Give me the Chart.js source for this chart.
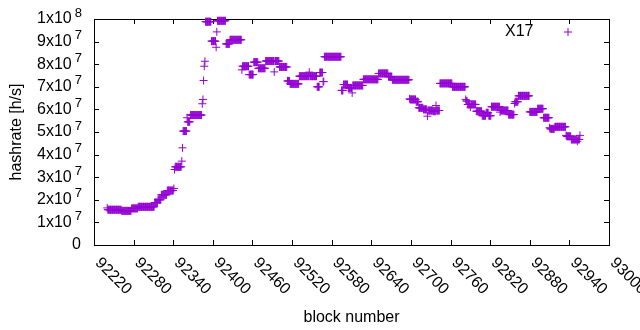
<!DOCTYPE html>
<html>
<head>
<meta charset="utf-8">
<script src="https://cdn.jsdelivr.net/npm/chart.js@4/dist/chart.umd.min.js"></script>
<style>
  html, body { margin: 0; padding: 0; background: #fff; }
  canvas { display: block; }
</style>
</head>
<body>
<canvas id="chart" width="640" height="330"></canvas>
<script>
// x range and ticks (block numbers)
const xMin = 92220, xMax = 93000, xStep = 60;
// y range and ticks (h/s)
const yMin = 0, yMax = 1e8, yStep = 1e7;

const seriesLabel = 'X17';
const xTitle = 'block number';
const yTitle = 'hashrate [h/s]';

// one value per block, starting at firstBlock, in 10^6 h/s
const firstBlock = 92240;
const hashrateMh = [
  /* 92240 */ 16.4,15.6,15.6,15.6,15.6,15.6,15.6,15.6,15.6,15.6,
  /* 92250 */ 15.6,15.6,15.6,15.6,15.6,15.6,15.6,15.6,15.6,15.6,
  /* 92260 */ 15.6,15.6,15.1,15.1,15.1,15.1,15.1,15.1,15.1,15.1,
  /* 92270 */ 15.1,15.1,15.1,15.1,15.1,15.1,15.1,16.2,16.2,16.2,
  /* 92280 */ 16.2,16.2,16.2,16.2,16.2,16.2,16.2,16.9,16.9,16.9,
  /* 92290 */ 16.9,16.9,16.9,16.9,16.9,16.9,16.9,16.9,16.9,16.9,
  /* 92300 */ 16.9,16.9,16.9,16.9,16.9,16.9,16.9,16.9,16.9,16.9,
  /* 92310 */ 16.9,16.9,18.8,18.8,18.8,18.8,18.8,20.0,20.0,20.0,
  /* 92320 */ 20.0,20.0,22.2,22.2,22.2,22.2,22.2,22.2,22.2,22.2,
  /* 92330 */ 22.2,24.1,24.1,24.1,24.1,24.1,24.1,24.1,24.1,24.1,
  /* 92340 */ 24.1,25.0,33.4,34.6,34.6,34.6,34.6,34.6,34.6,34.6,
  /* 92350 */ 34.6,34.6,34.6,37.1,43.0,50.4,50.4,50.4,50.4,50.4,
  /* 92360 */ 50.4,56.3,54.5,54.5,54.5,54.5,57.5,57.5,57.5,57.5,
  /* 92370 */ 57.5,57.5,57.5,57.5,57.5,57.5,57.5,57.5,57.5,57.5,
  /* 92380 */ 57.5,57.5,57.5,57.5,62.5,64.4,72.8,79.1,81.3,98.8,
  /* 92390 */ 98.8,98.8,98.8,98.8,98.8,98.8,98.8,98.8,90.2,90.2,
  /* 92400 */ 90.2,90.2,90.2,90.2,90.2,87.5,94.3,99.2,99.2,99.2,
  /* 92410 */ 99.2,99.2,99.2,99.2,99.2,99.2,99.2,99.2,99.2,99.2,
  /* 92420 */ 89.0,89.0,89.0,89.0,89.0,89.0,90.8,90.8,90.8,90.8,
  /* 92430 */ 90.8,90.8,90.8,90.8,90.8,90.8,90.8,90.8,90.8,90.8,
  /* 92440 */ 90.8,90.8,90.8,90.8,77.5,79.1,79.1,79.1,79.1,79.1,
  /* 92450 */ 79.1,79.1,79.1,79.1,79.1,75.4,75.4,75.4,75.4,75.4,
  /* 92460 */ 75.4,75.4,80.9,80.9,80.9,80.9,80.9,80.9,80.9,78.2,
  /* 92470 */ 78.2,78.2,78.2,78.2,78.2,78.2,78.2,78.2,78.2,78.2,
  /* 92480 */ 81.4,81.4,81.4,81.4,81.4,81.4,81.4,81.4,81.4,81.4,
  /* 92490 */ 81.4,81.4,81.4,76.6,81.4,81.4,81.4,81.4,81.4,81.4,
  /* 92500 */ 81.4,78.8,78.8,78.8,78.8,78.8,78.8,78.8,78.8,78.8,
  /* 92510 */ 78.8,78.8,78.8,72.6,72.6,72.6,72.6,71.3,71.3,71.3,
  /* 92520 */ 71.3,71.3,71.3,71.3,71.3,71.3,71.3,71.3,71.3,71.3,
  /* 92530 */ 71.3,74.7,74.7,74.7,74.7,74.7,74.7,74.7,74.7,74.7,
  /* 92540 */ 74.7,74.7,74.7,74.7,74.7,74.7,76.5,74.7,74.7,74.7,
  /* 92550 */ 74.7,74.7,74.7,74.7,74.7,74.7,74.7,74.7,70.0,70.0,
  /* 92560 */ 70.0,70.0,76.3,76.3,76.3,76.3,76.3,72.3,72.3,83.3,
  /* 92570 */ 83.3,83.3,83.3,83.3,83.3,83.3,83.3,83.3,83.3,83.3,
  /* 92580 */ 83.3,83.3,83.3,83.3,83.3,83.3,83.3,83.3,83.3,83.3,
  /* 92590 */ 83.3,83.3,83.3,83.3,83.3,68.4,68.4,68.4,71.0,71.0,
  /* 92600 */ 71.0,71.0,71.0,71.0,71.0,69.5,69.5,69.5,69.5,69.5,
  /* 92610 */ 69.5,67.3,70.6,70.6,70.6,70.6,70.6,70.6,70.6,70.6,
  /* 92620 */ 70.6,70.6,70.6,70.6,70.6,70.6,70.6,70.6,73.3,73.3,
  /* 92630 */ 73.3,73.3,73.3,73.3,73.3,73.3,73.3,73.3,73.3,73.3,
  /* 92640 */ 73.3,73.3,73.3,73.3,73.3,73.3,73.3,73.3,73.3,73.3,
  /* 92650 */ 73.3,75.9,75.9,75.9,75.9,75.9,75.9,75.9,75.9,75.9,
  /* 92660 */ 75.9,75.9,75.9,75.9,75.9,75.9,74.5,74.5,74.5,74.5,
  /* 92670 */ 74.5,74.5,73.1,73.1,73.1,73.1,73.1,73.1,73.1,73.1,
  /* 92680 */ 73.1,73.1,73.1,73.1,73.1,73.1,73.1,73.1,73.1,73.1,
  /* 92690 */ 73.1,73.1,73.1,73.1,73.1,73.1,73.1,73.1,64.7,64.4,
  /* 92700 */ 64.4,64.4,64.4,64.4,64.4,64.4,64.4,64.4,63.4,63.4,
  /* 92710 */ 63.4,63.4,60.7,60.7,60.7,60.7,60.7,60.7,60.7,60.0,
  /* 92720 */ 60.0,60.0,60.0,60.0,60.0,57.0,59.5,59.5,59.5,59.5,
  /* 92730 */ 59.5,59.5,59.5,59.5,59.2,59.2,59.2,59.2,61.7,59.5,
  /* 92740 */ 59.5,59.5,59.5,59.5,71.5,71.5,71.5,71.5,71.5,71.5,
  /* 92750 */ 71.5,71.5,71.5,71.5,71.5,71.5,71.5,71.5,71.5,71.5,
  /* 92760 */ 71.5,71.5,71.5,70.0,70.0,70.0,70.0,70.0,70.0,70.0,
  /* 92770 */ 70.0,70.0,70.0,70.0,70.0,70.0,70.0,70.0,70.0,70.0,
  /* 92780 */ 70.0,70.0,70.0,64.4,63.7,63.7,62.2,62.2,62.2,62.2,
  /* 92790 */ 61.0,62.2,62.2,62.2,62.2,62.2,62.2,62.2,62.2,59.2,
  /* 92800 */ 59.2,59.2,59.2,59.2,59.2,59.2,59.2,59.2,57.2,57.2,
  /* 92810 */ 57.2,57.2,57.2,57.2,58.5,58.5,58.5,58.5,57.2,57.2,
  /* 92820 */ 57.2,57.2,61.2,61.2,61.2,61.2,61.2,61.2,61.2,61.2,
  /* 92830 */ 61.2,61.2,61.2,61.2,61.2,58.8,59.5,59.5,59.5,59.5,
  /* 92840 */ 59.5,59.5,59.5,59.5,59.5,59.5,59.5,59.5,57.7,57.7,
  /* 92850 */ 57.7,57.7,57.7,57.7,57.7,57.7,57.7,62.6,63.4,63.4,
  /* 92860 */ 63.4,63.4,63.4,66.0,66.0,66.0,66.0,66.0,66.0,66.0,
  /* 92870 */ 66.0,66.0,66.0,66.0,66.0,66.0,66.0,66.0,66.0,66.0,
  /* 92880 */ 58.9,58.9,58.9,58.9,58.9,58.9,58.9,58.9,58.9,58.9,
  /* 92890 */ 58.9,58.9,60.3,60.3,60.3,60.3,60.3,60.3,60.3,60.3,
  /* 92900 */ 60.3,56.3,56.3,56.3,56.3,56.3,56.3,56.3,56.3,56.3,
  /* 92910 */ 51.9,51.4,51.4,51.4,51.4,51.4,51.4,51.4,52.3,52.3,
  /* 92920 */ 52.3,52.3,52.3,52.3,52.3,52.3,52.3,52.3,52.3,52.3,
  /* 92930 */ 52.3,52.3,52.3,52.3,52.3,48.5,48.1,48.1,48.1,48.1,
  /* 92940 */ 48.1,48.1,48.1,46.7,46.7,46.7,46.7,46.7,46.7,46.7,
  /* 92950 */ 46.7,46.7,45.9,46.7,46.7,46.7,48.5
];

const violet = '#9400d3';
const fontFamily = '"Liberation Sans", Arial, sans-serif';
const fontSize = 16;
const markSize = 4;

const points = hashrateMh.map((v, i) => ({ x: firstBlock + i, y: v * 1e6 }));

function drawCross(ctx, x, y) {
  ctx.beginPath();
  ctx.moveTo(x - markSize, y); ctx.lineTo(x + markSize, y);
  ctx.moveTo(x, y - markSize); ctx.lineTo(x, y + markSize);
  ctx.stroke();
}

// gnuplot look: full border, inward tics on all sides, rotated x labels,
// y labels written as Nx10^E, key inside the top right corner
const gnuplotFrame = {
  id: 'gnuplotFrame',
  beforeDatasetsDraw(chart) {
    const { ctx, chartArea: a, scales: { x, y } } = chart;
    const tic = 5;
    ctx.save();
    ctx.strokeStyle = '#000';
    ctx.fillStyle = '#000';
    ctx.lineWidth = 1;
    ctx.strokeRect(a.left + 0.5, a.top + 0.5, a.right - a.left, a.bottom - a.top);

    ctx.beginPath();
    x.ticks.forEach(t => {
      const px = Math.round(x.getPixelForValue(t.value)) + 0.5;
      ctx.moveTo(px, a.bottom); ctx.lineTo(px, a.bottom - tic);
      ctx.moveTo(px, a.top); ctx.lineTo(px, a.top + tic);
    });
    y.ticks.forEach(t => {
      const py = Math.round(y.getPixelForValue(t.value)) + 0.5;
      ctx.moveTo(a.left, py); ctx.lineTo(a.left + tic, py);
      ctx.moveTo(a.right, py); ctx.lineTo(a.right - tic, py);
    });
    ctx.stroke();

    // x tick labels, rotated by -45 (reading downwards)
    ctx.font = fontSize + 'px ' + fontFamily;
    ctx.textAlign = 'left';
    ctx.textBaseline = 'middle';
    x.ticks.forEach(t => {
      const px = x.getPixelForValue(t.value);
      ctx.save();
      ctx.translate(px + 3.5, a.bottom + 15.5);
      ctx.rotate(Math.PI / 4);
      ctx.fillText(String(Math.round(t.value)), 0, 0);
      ctx.restore();
    });

    // y tick labels
    const supFont = Math.round(fontSize * 0.8) + 'px ' + fontFamily;
    const right = a.left - 12;
    y.ticks.forEach(t => {
      const py = y.getPixelForValue(t.value);
      const v = Math.round(t.value);
      ctx.textAlign = 'left';
      if (v === 0) {
        ctx.font = fontSize + 'px ' + fontFamily;
        ctx.textAlign = 'right';
        ctx.fillText('0', right - 1, py);
        return;
      }
      const exp = Math.floor(Math.log10(v) + 1e-9);
      const main = Math.round(v / Math.pow(10, exp)) + 'x10';
      const sup = String(exp);
      ctx.font = supFont;
      const supW = ctx.measureText(sup).width;
      ctx.fillText(sup, right - supW, py - 6);
      ctx.font = fontSize + 'px ' + fontFamily;
      ctx.textAlign = 'right';
      ctx.fillText(main, right - supW - 3, py);
    });

    // key
    ctx.font = fontSize + 'px ' + fontFamily;
    ctx.textAlign = 'right';
    ctx.fillText(seriesLabel, 533.5, 32);
    ctx.strokeStyle = violet;
    drawCross(ctx, 568, 32);
    ctx.restore();
  }
};

new Chart(document.getElementById('chart'), {
  type: 'scatter',
  data: {
    datasets: [{
      label: seriesLabel,
      data: points,
      pointStyle: 'cross',
      pointRadius: markSize,
      pointBorderWidth: 1,
      borderColor: violet,
      backgroundColor: violet,
      clip: false
    }]
  },
  options: {
    responsive: false,
    animation: false,
    devicePixelRatio: 1,
    events: [],
    layout: { padding: { top: 19, right: 31, left: 0, bottom: 0 } },
    plugins: {
      legend: { display: false },
      tooltip: { enabled: false }
    },
    scales: {
      x: {
        type: 'linear',
        min: xMin,
        max: xMax,
        ticks: { stepSize: xStep, display: false },
        grid: { display: false },
        border: { display: false },
        title: {
          display: true, text: xTitle, color: '#000',
          font: { family: fontFamily, size: fontSize },
          padding: { top: 0, bottom: 3.2 }
        },
        afterFit(s) { s.height = 85; }
      },
      y: {
        min: yMin,
        max: yMax,
        ticks: { stepSize: yStep, display: false },
        grid: { display: false },
        border: { display: false },
        title: {
          display: true, text: yTitle, color: '#000',
          font: { family: fontFamily, size: fontSize },
          padding: { top: 6.6, bottom: 0 }
        },
        afterFit(s) { s.width = 94; }
      }
    }
  },
  plugins: [gnuplotFrame]
});
</script>
</body>
</html>
